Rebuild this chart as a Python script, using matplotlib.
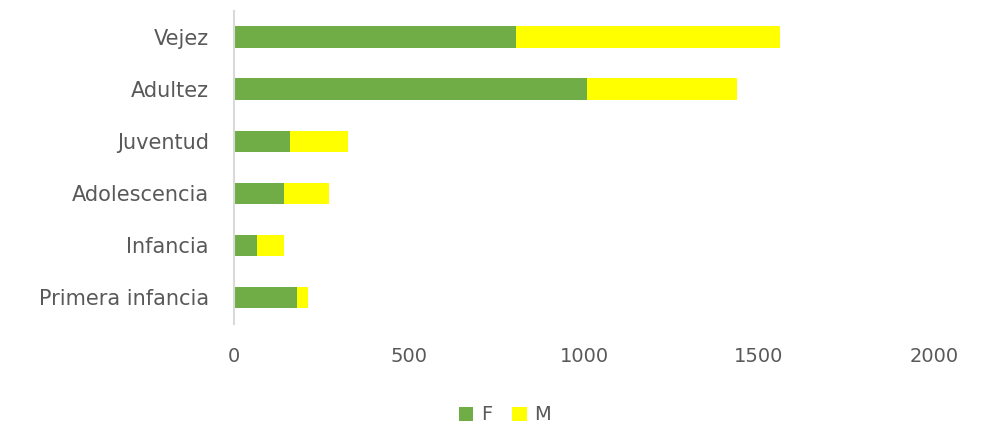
import matplotlib
matplotlib.use("Agg")
import matplotlib.pyplot as plt

categories = ["Primera infancia", "Infancia", "Adolescencia", "Juventud", "Adultez", "Vejez"]
f_values = [179, 66, 142, 160, 1009, 806]
m_values = [32, 76, 130, 166, 428, 754]
xticks = [0, 500, 1000, 1500, 2000]

green = "#70AD47"
yellow = "#FFFF00"
text_color = "#595959"

plt.rcParams['font.family'] = ['DejaVu Sans']

fig = plt.figure(figsize=(9.84, 4.32), dpi=100)
ax = fig.add_axes([234/984, 1 - 323.5/432, 700/984, 312.5/432])

y = list(range(len(categories)))
ax.barh(y, f_values, height=0.41, color=green, label="F")
ax.barh(y, m_values, left=f_values, height=0.41, color=yellow, label="M")

ax.set_xlim(0, 2000)
ax.set_ylim(-0.5, len(categories) - 0.5)
ax.set_yticks(y)
ax.set_yticklabels(categories, fontsize=15, color=text_color)
ax.set_xticks(xticks)
ax.set_xticklabels([str(v) for v in xticks], fontsize=14, color=text_color)
ax.tick_params(axis='both', length=0)
ax.tick_params(axis='y', pad=18)
ax.tick_params(axis='x', pad=17)

for s in ["top", "right", "bottom"]:
    ax.spines[s].set_visible(False)
ax.spines["left"].set_color("#D9D9D9")
ax.spines["left"].set_linewidth(1.5)

fig.legend(loc="center", bbox_to_anchor=(505/984, 1 - 415/432), ncol=2, frameon=False,
           fontsize=14, labelcolor=text_color, handlelength=0.75, handleheight=0.75,
           handletextpad=0.4, columnspacing=1.0)

fig.savefig("out.png", dpi=100, facecolor="white")
